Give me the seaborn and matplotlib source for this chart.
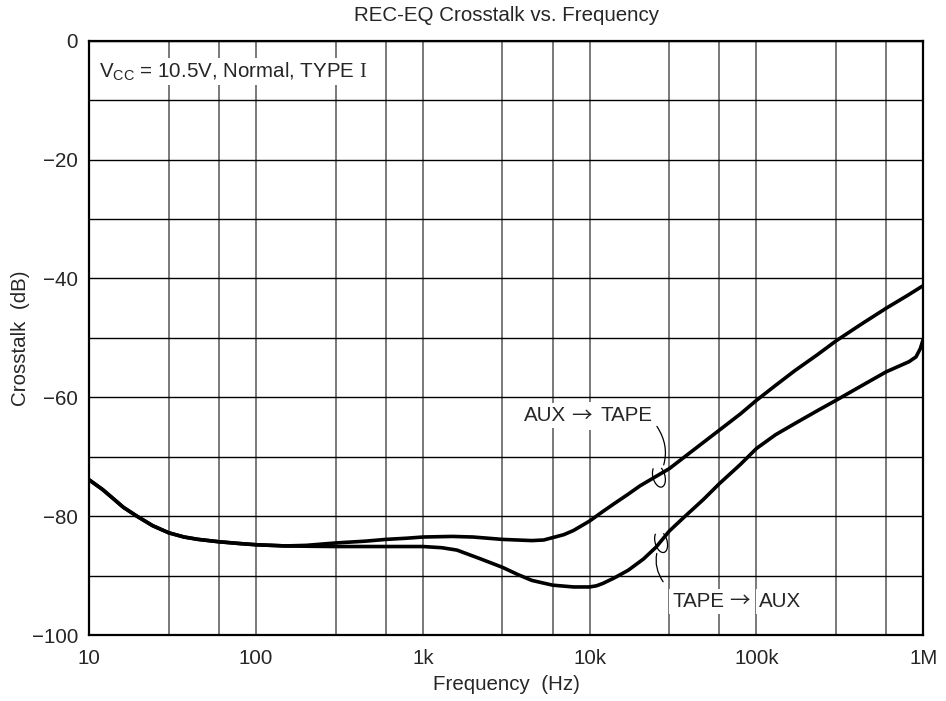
import numpy as np
import pandas as pd
import seaborn as sns
import matplotlib.pyplot as plt
import matplotlib.transforms as mtransforms
from matplotlib.patches import Arc

# Curve readings (frequency in Hz, crosstalk in dB)
aux_freq = [10, 12, 13.6, 16, 19.3, 24, 30, 37, 45, 60, 80, 100, 150, 200,
            300, 450, 600, 800, 1000, 1500, 2000, 3000, 4500, 5300, 6000,
            7000, 8000, 10000, 12000, 14000, 17000, 20000, 25000, 30000,
            40000, 60000, 80000, 100000, 130000, 170000, 230000, 300000,
            430000, 600000, 800000, 1000000]
aux_tape = [-73.9, -75.5, -76.8, -78.5, -80.0, -81.6, -82.8, -83.5, -83.9,
            -84.3, -84.6, -84.8, -85.0, -84.9, -84.5, -84.2, -83.9, -83.7,
            -83.5, -83.4, -83.5, -83.9, -84.1, -84.0, -83.6, -83.1, -82.4,
            -80.8, -79.2, -77.9, -76.3, -74.9, -73.3, -72.0, -69.3, -65.5,
            -62.8, -60.5, -58.0, -55.5, -52.9, -50.5, -47.6, -45.0, -42.9,
            -41.2]

tape_freq = [10, 12, 13.6, 16, 19.3, 24, 30, 37, 45, 60, 80, 100, 150, 200,
             300, 600, 1000, 1300, 1600, 2180, 3000, 3700, 4500, 6000, 8000,
             10000, 11000, 12000, 14000, 17000, 21000, 25000, 30000, 37000,
             48000, 60000, 80000, 100000, 130000, 170000, 230000, 300000,
             430000, 600000, 822000, 904000, 960000, 1000000]
tape_aux = [-73.9, -75.5, -76.8, -78.5, -80.0, -81.6, -82.8, -83.5, -83.9,
            -84.3, -84.6, -84.8, -85.0, -85.05, -85.1, -85.1, -85.1, -85.3,
            -85.7, -87.1, -88.6, -89.8, -90.8, -91.6, -91.9, -91.9, -91.7,
            -91.3, -90.4, -89.1, -87.2, -85.2, -82.5, -80.1, -77.2, -74.5,
            -71.3, -68.6, -66.3, -64.4, -62.3, -60.5, -58.0, -55.7, -54.0,
            -53.2, -51.8, -50.2]

x_ticks = [10, 100, 1e3, 1e4, 1e5, 1e6]
x_labels = ['10', '100', '1k', '10k', '100k', '1M']
x_minor = [30, 60, 300, 600, 3e3, 6e3, 3e4, 6e4, 3e5, 6e5]
y_ticks = [0, -20, -40, -60, -80, -100]
y_minor = [-10, -30, -50, -70, -90]

df = pd.concat([
    pd.DataFrame({'freq': aux_freq, 'db': aux_tape, 'path': 'AUX-TAPE'}),
    pd.DataFrame({'freq': tape_freq, 'db': tape_aux, 'path': 'TAPE-AUX'}),
])

sns.set_style('white')
plt.rcParams['font.family'] = ['Liberation Sans', 'DejaVu Sans']
plt.rcParams['mathtext.fontset'] = 'custom'
plt.rcParams['mathtext.rm'] = 'Liberation Serif'
plt.rcParams['mathtext.sf'] = 'Liberation Sans'
plt.rcParams['axes.unicode_minus'] = True

FS = 14.8

fig = plt.figure(figsize=(9.46, 7.01), dpi=100)
ax = fig.add_axes([0.0944, 0.094, 0.8816, 0.848])

sns.lineplot(data=df, x='freq', y='db', units='path', estimator=None,
             color='black', lw=2.6, ax=ax, sort=False)

ax.set_xscale('log')
ax.set_xlim(10, 1e6)
ax.set_ylim(-100, 0)
ax.set_xticks(x_ticks)
ax.set_xticklabels(x_labels)
ax.set_xticks(x_minor, minor=True)
ax.set_xticklabels([], minor=True)
ax.set_yticks(y_ticks)
ax.set_yticklabels([str(v).replace('-', '−') for v in y_ticks])
ax.set_yticks(y_minor, minor=True)
ax.tick_params(which='both', length=0, labelsize=FS)
ax.tick_params(axis='x', pad=10)
ax.tick_params(axis='y', pad=8)

ax.grid(axis='x', which='both', color='#555555', lw=1.1)
ax.grid(axis='y', which='both', color='black', lw=1.0)
for sp in ax.spines.values():
    sp.set_color('black')
    sp.set_linewidth(1.6)

ax.set_xlabel('Frequency  (Hz)', fontsize=FS, labelpad=5)
ax.set_ylabel('Crosstalk  (dB)', fontsize=FS, labelpad=1)
ax.set_title('REC-EQ Crosstalk vs. Frequency', fontsize=FS, pad=14)

ax.text(0.012, 0.967, r'V$_{\mathsf{CC}}$ = 10.5V, Normal, TYPE $\mathrm{I}$',
        transform=ax.transAxes, fontsize=FS, va='top', ha='left',
        bbox=dict(facecolor='white', edgecolor='none', pad=1.5))


def arrow_label(x, y, left, right):
    # "left → right" in three pieces; the thin arrow comes from a CJK font
    box = dict(facecolor='white', edgecolor='none', pad=2.0)
    t1 = ax.text(x, y, left, fontsize=FS, ha='left', va='center', bbox=box)
    t2 = ax.annotate('→', xy=(1, 0.5), xycoords=t1, xytext=(5, 0),
                     textcoords='offset pixels', fontsize=FS,
                     family='Noto Sans CJK JP', ha='left', va='center',
                     bbox=box)
    ax.annotate(right, xy=(1, 0.5), xycoords=t2, xytext=(9, 0),
                textcoords='offset pixels', fontsize=FS,
                ha='left', va='center', bbox=box)


arrow_label(4.03e3, -63.1, 'AUX', 'TAPE')
arrow_label(3.13e4, -94.3, 'TAPE', 'AUX')

ax.annotate('', xy=(2.6e4, -73.3), xytext=(-2, 50), textcoords='offset pixels',
            arrowprops=dict(arrowstyle='-', lw=0.9, color='black',
                            connectionstyle='arc3,rad=-0.3',
                            shrinkA=0, shrinkB=9))
ax.annotate('', xy=(2.68e4, -84.3), xytext=(2, -40), textcoords='offset pixels',
            arrowprops=dict(arrowstyle='-', lw=0.9, color='black',
                            connectionstyle='arc3,rad=-0.3',
                            shrinkA=0, shrinkB=9))

for fx, fy, tilt in [(2.6e4, -73.3, 15), (2.68e4, -84.3, 15)]:
    loop = Arc((0, 0), 0.12, 0.22, angle=tilt, theta1=110, theta2=420,
               lw=0.9, color='black',
               transform=fig.dpi_scale_trans +
               mtransforms.ScaledTranslation(fx, fy, ax.transData))
    ax.add_artist(loop)

fig.savefig('out.png', dpi=100)
